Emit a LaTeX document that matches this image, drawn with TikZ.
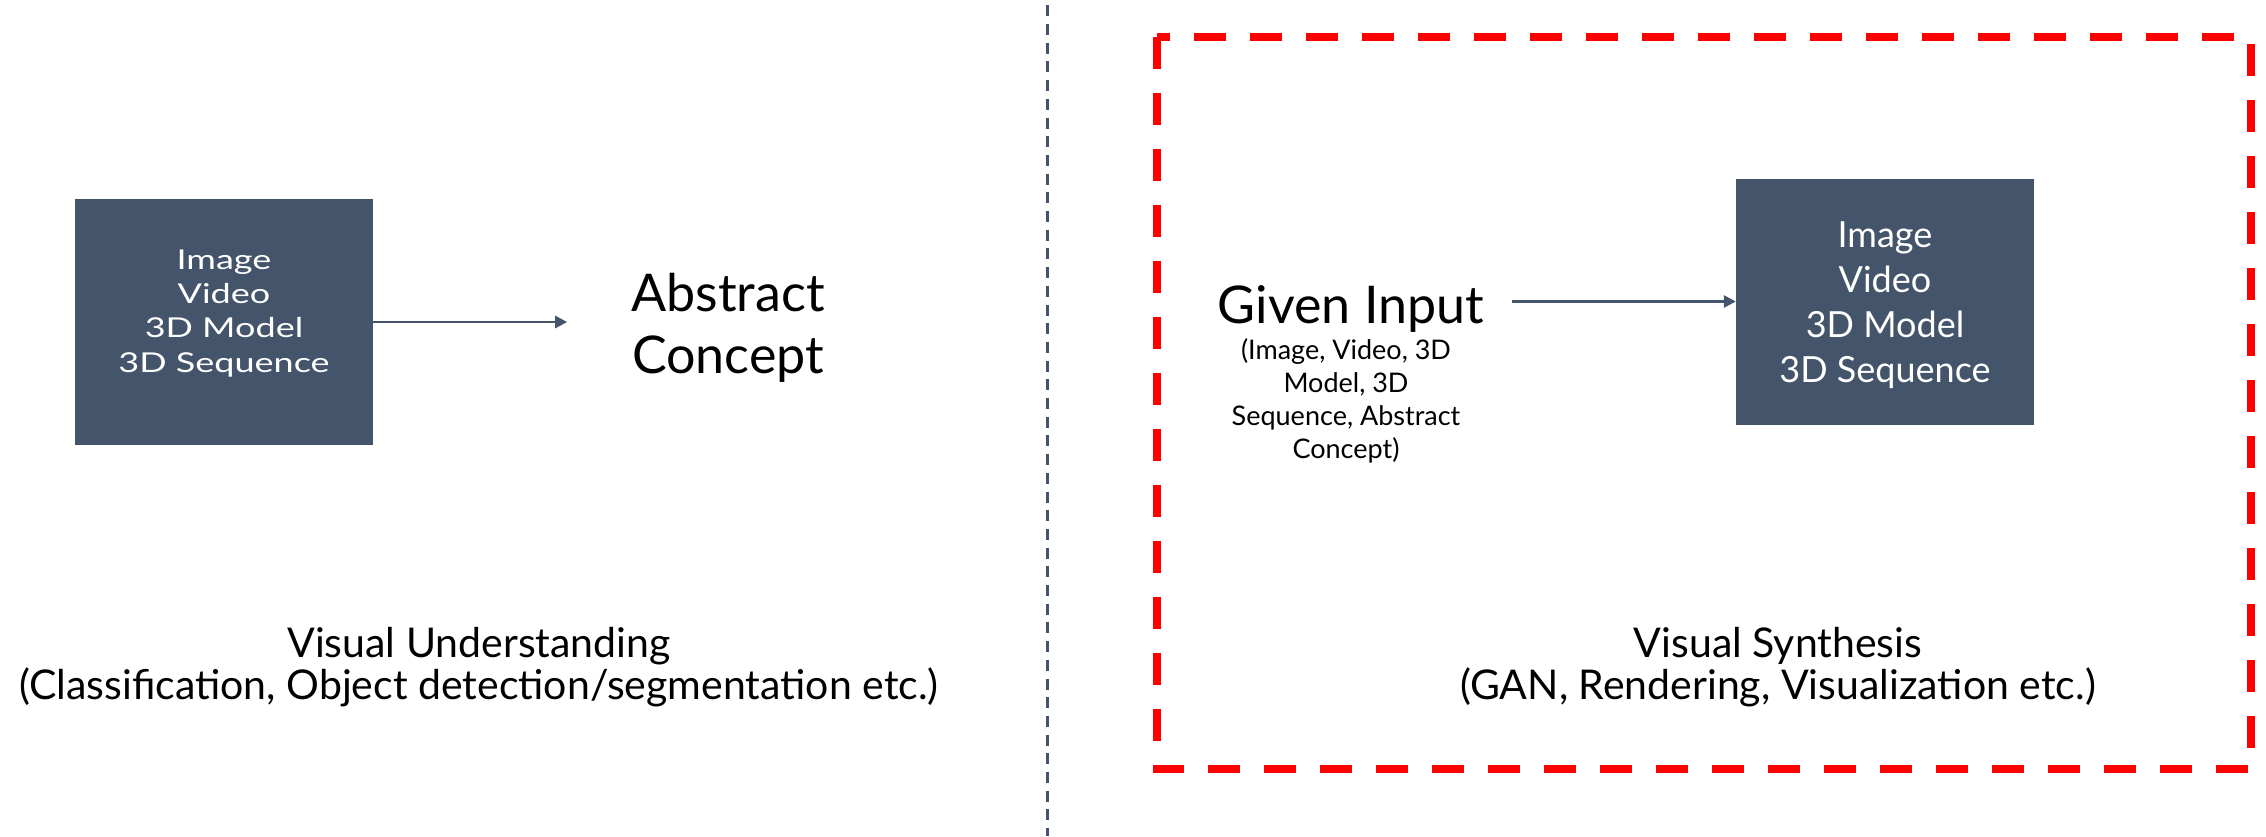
\documentclass[tikz,border=0pt]{standalone}
\usepackage{fontspec}
\usepackage{graphicx}
\setmainfont{Lato}
\usetikzlibrary{arrows.meta}
\definecolor{slate}{HTML}{44546A}
\definecolor{redd}{HTML}{FF0000}
\newcommand{\boxlines}{\begin{tabular}{@{}c@{}}Image\\Video\\3D Model\\3D Sequence\end{tabular}}
\begin{document}
\begin{tikzpicture}[x=1pt,y=-1pt,
  box/.style={fill=slate, minimum width=298pt, minimum height=246pt, inner sep=0pt},
  boxtext/.style={text=white, inner sep=0pt, font=\fontsize{36}{45}\selectfont},
  arr/.style={draw=slate, line width=2.5pt, -{Triangle[length=12pt,width=12pt]}},
  lbl/.style={align=center, inner sep=0pt},
  big/.style={font=\fontsize{52}{62}\selectfont},
  small/.style={font=\fontsize{27}{33}\selectfont},
  caption/.style={font=\fontsize{41}{42}\selectfont}]
\useasboundingbox (0,0) rectangle (2266,836);
% divider
\draw[slate, line width=3pt, dash pattern=on 11pt off 7.7pt] (1047,5.3) -- (1047,836);
% red dashed frame
\draw[redd, line width=8pt, dash pattern=on 32pt off 24pt] (1157,36.7) rectangle (2251,769.3);
% left part
\node[box] (lbox) at (224,322) {};
\node[boxtext] (ltxt) at (224,314) {\scalebox{1}[0.76]{\boxlines}};
\node[lbl, big] (abs) at (728,328) {Abstract\\Concept};
\draw[arr, shorten >=64pt] (lbox.east) -- (lbox.east -| abs.west);
\node[lbl, caption, anchor=north] (vu) at (479,627) {Visual Understanding\\(Classification, Object detection/segmentation etc.)};
% right part
\node[box] (rbox) at (1885,301.5) {};
\node[boxtext] (rtxt) at (1885,306) {\boxlines};
\node[lbl, big, anchor=base] (gin) at (1351,323) {Given Input};
\node[lbl, small, anchor=north] (gsub) at (1346,338) {(Image, Video, 3D\\Model, 3D\\Sequence, Abstract\\Concept)};
\coordinate (gstart) at ([xshift=-224pt]rbox.west);
\draw[arr] (gstart) -- (rbox.west);
\node[lbl, caption, anchor=north] (vs) at (1778,627) {Visual Synthesis\\(GAN, Rendering, Visualization etc.)};
\end{tikzpicture}
\end{document}
